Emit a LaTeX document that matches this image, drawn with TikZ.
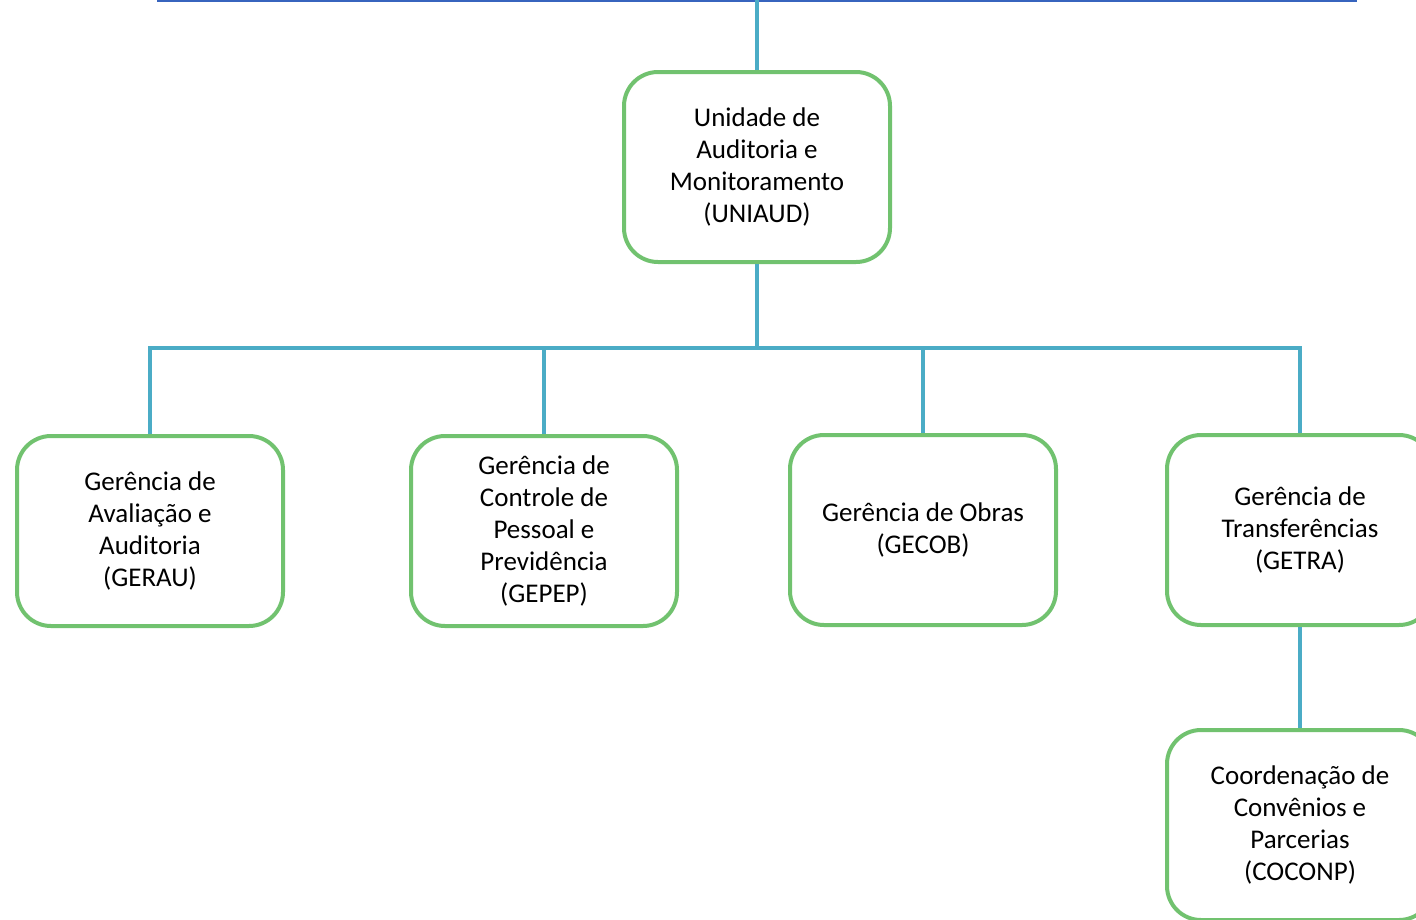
\documentclass[tikz,border=0pt]{standalone}
\usepackage{fontspec}
\setmainfont{Carlito}
\definecolor{boxgreen}{RGB}{113,194,111}
\definecolor{linkblue}{RGB}{75,172,198}
\definecolor{topblue}{RGB}{55,100,190}
\tikzset{
  orgbox/.style={draw=boxgreen, line width=4pt, fill=white, rounded corners=34pt,
    minimum width=266pt, minimum height=190pt, align=center, inner sep=0pt,
    font=\fontsize{27}{32}\selectfont},
  link/.style={draw=linkblue, line width=4.5pt},
  topline/.style={draw=topblue, line width=4pt}
}
\begin{document}
\begin{tikzpicture}[x=1pt,y=-1pt]
\useasboundingbox (0,0) rectangle (1416,919);
\clip (0,0) rectangle (1416,919);
\coordinate (tl) at (157,0);
\coordinate (tr) at (1357,0);
\coordinate (bus) at (757,348);
\draw[topline] (tl) -- (tr);
\node[orgbox] (uni) at (757,167) {Unidade de\\Auditoria e\\Monitoramento\\(UNIAUD)};
\node[orgbox] (gerau) at (150,531) {Gerência de\\Avaliação e\\Auditoria\\(GERAU)};
\node[orgbox] (gepep) at (544,531) {Gerência de\\Controle de\\Pessoal e\\Previdência\\(GEPEP)};
\node[orgbox] (gecob) at (923,530) {Gerência de Obras\\(GECOB)};
\node[orgbox] (getra) at (1300,530) {Gerência de\\Transferências\\(GETRA)};
\node[orgbox] (coconp) at (1300,825) {Coordenação de\\Convênios e\\Parcerias\\(COCONP)};
\draw[link] (uni.north) -- (uni.north |- tl);
\draw[link] (uni.south) -- (bus);
\draw[link] (gerau.north) -- (gerau.north |- bus) -- (getra.north |- bus) -- (getra.north);
\draw[link] (gepep.north) -- (gepep.north |- bus);
\draw[link] (gecob.north) -- (gecob.north |- bus);
\draw[link] (getra.south) -- (coconp.north);
\end{tikzpicture}
\end{document}
